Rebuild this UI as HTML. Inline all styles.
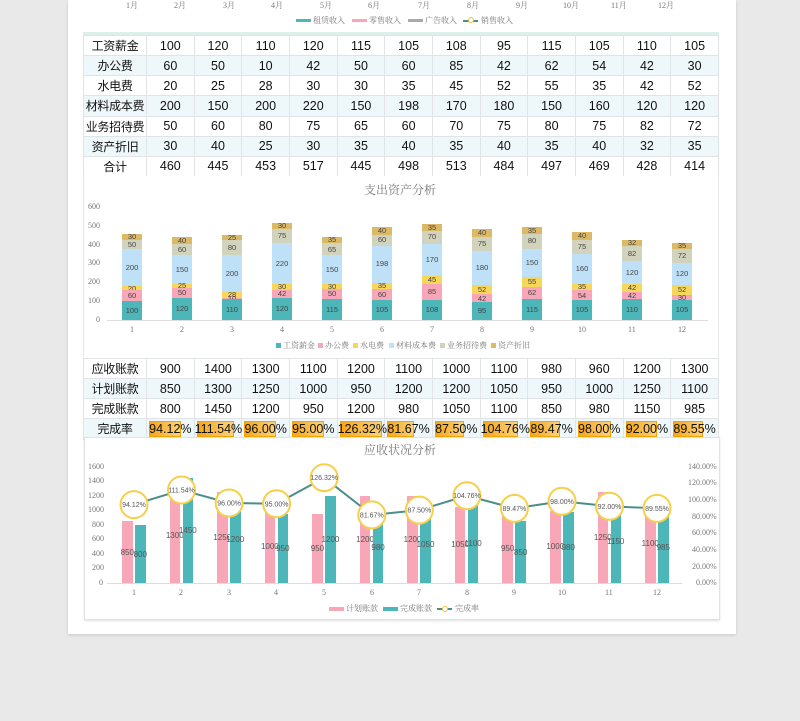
<!DOCTYPE html>
<html><head><meta charset="utf-8"><style>
*{margin:0;padding:0;box-sizing:border-box}
body{width:800px;height:721px;background:#e9e9e9;position:relative;overflow:hidden;font-family:"Liberation Sans","Noto Sans CJK SC",sans-serif}
.sheet{position:absolute;left:68px;top:0;width:668px;height:634px;background:#fff;box-shadow:0 1px 3px rgba(0,0,0,.15)}
.abs{position:absolute}
.small{font-size:8px;color:#777;font-family:"Liberation Serif","Noto Serif CJK SC",serif;white-space:nowrap}
table{position:absolute;left:83px;border-collapse:collapse;table-layout:fixed;width:636px}
td{border:1px solid #e1e4e6;text-align:center;font-size:12.5px;color:#111;height:20.15px;padding:0;white-space:nowrap;position:relative;overflow:visible}
td:first-child{font-size:12px;letter-spacing:-0.3px}
tr:nth-child(even) td{background:#eef7fa}
.bar{position:absolute;width:20px;display:flex;flex-direction:column-reverse}
.bar div{display:flex;align-items:center;justify-content:center;font-size:7.5px;color:#444;overflow:visible;line-height:1}
.c1{background:#4db6b9}.c2{background:#f7a7b7}.c3{background:#f7d65c}.c4{background:#bfe1f8}.c5{background:#d2d3bd}.c6{background:#dcb966}
.b2{position:absolute;width:10.5px;display:flex;align-items:center;justify-content:center;font-size:8px;color:#555;overflow:visible}
.pk{background:#f7a7b7}.tl{background:#4db6b9}
.pb{position:absolute;left:2px;top:2px;height:16px;background:linear-gradient(90deg,#f7a51c,#fcd27c);border:1px solid #f5a300}
.pt{position:relative;z-index:1}
</style></head><body>
<div class="sheet"></div>

<div class="small abs" style="left:126px;top:0">1月</div>
<div class="small abs" style="left:174px;top:0">2月</div>
<div class="small abs" style="left:223px;top:0">3月</div>
<div class="small abs" style="left:271px;top:0">4月</div>
<div class="small abs" style="left:320px;top:0">5月</div>
<div class="small abs" style="left:368px;top:0">6月</div>
<div class="small abs" style="left:418px;top:0">7月</div>
<div class="small abs" style="left:467px;top:0">8月</div>
<div class="small abs" style="left:516px;top:0">9月</div>
<div class="small abs" style="left:563px;top:0">10月</div>
<div class="small abs" style="left:611px;top:0">11月</div>
<div class="small abs" style="left:658px;top:0">12月</div>
<div class="abs" style="left:296px;top:19px;width:15px;height:3px;background:#4db6b9"></div>
<div class="small abs" style="left:313px;top:15px">租赁收入</div>
<div class="abs" style="left:352px;top:19px;width:15px;height:3px;background:#f7a7b7"></div>
<div class="small abs" style="left:369px;top:15px">零售收入</div>
<div class="abs" style="left:408px;top:19px;width:15px;height:3px;background:#aaa"></div>
<div class="small abs" style="left:425px;top:15px">广告收入</div>
<div class="abs" style="left:463px;top:19.5px;width:15px;height:2px;background:#4a8f8c"></div>
<div class="abs" style="left:468px;top:17px;width:6px;height:6px;border-radius:50%;background:#fff;border:1px solid #f2c230"></div>
<div class="small abs" style="left:481px;top:15px">销售收入</div>
<div class="abs" style="left:83px;top:32px;width:636px;height:3px;background:#dcefeb"></div>

<table style="top:35px">
<colgroup><col style="width:63px"><col span="12"></colgroup>
<tr><td>工资薪金</td><td>100</td><td>120</td><td>110</td><td>120</td><td>115</td><td>105</td><td>108</td><td>95</td><td>115</td><td>105</td><td>110</td><td>105</td></tr>
<tr><td>办公费</td><td>60</td><td>50</td><td>10</td><td>42</td><td>50</td><td>60</td><td>85</td><td>42</td><td>62</td><td>54</td><td>42</td><td>30</td></tr>
<tr><td>水电费</td><td>20</td><td>25</td><td>28</td><td>30</td><td>30</td><td>35</td><td>45</td><td>52</td><td>55</td><td>35</td><td>42</td><td>52</td></tr>
<tr><td>材料成本费</td><td>200</td><td>150</td><td>200</td><td>220</td><td>150</td><td>198</td><td>170</td><td>180</td><td>150</td><td>160</td><td>120</td><td>120</td></tr>
<tr><td>业务招待费</td><td>50</td><td>60</td><td>80</td><td>75</td><td>65</td><td>60</td><td>70</td><td>75</td><td>80</td><td>75</td><td>82</td><td>72</td></tr>
<tr><td>资产折旧</td><td>30</td><td>40</td><td>25</td><td>30</td><td>35</td><td>40</td><td>35</td><td>40</td><td>35</td><td>40</td><td>32</td><td>35</td></tr>
<tr><td>合计</td><td>460</td><td>445</td><td>453</td><td>517</td><td>445</td><td>498</td><td>513</td><td>484</td><td>497</td><td>469</td><td>428</td><td>414</td></tr>
</table>

<div class="abs" style="left:83px;top:176px;width:636px;height:181px;background:#fff;border-left:1px solid #e6e6e6;border-right:1px solid #e6e6e6"></div>
<div class="abs" style="left:0;width:800px;top:181px;text-align:center;font-size:12px;color:#777;font-family:'Liberation Serif','Noto Serif CJK SC',serif">支出资产分析</div>
<div class="abs" style="left:107px;top:320px;width:601px;height:1px;background:#ddd"></div>
<div class="small abs" style="left:88px;top:202px">600</div>
<div class="small abs" style="left:88px;top:221px">500</div>
<div class="small abs" style="left:88px;top:240px">400</div>
<div class="small abs" style="left:88px;top:258px">300</div>
<div class="small abs" style="left:88px;top:277px">200</div>
<div class="small abs" style="left:88px;top:296px">100</div>
<div class="small abs" style="left:96px;top:315px">0</div>

<div class="bar" style="left:122px;bottom:401px"><div class="c1" style="height:18.7px">100</div><div class="c2" style="height:11.2px">60</div><div class="c3" style="height:3.7px">20</div><div class="c4" style="height:37.4px">200</div><div class="c5" style="height:9.4px">50</div><div class="c6" style="height:5.6px">30</div></div>
<div class="bar" style="left:172px;bottom:401px"><div class="c1" style="height:22.4px">120</div><div class="c2" style="height:9.4px">50</div><div class="c3" style="height:4.7px">25</div><div class="c4" style="height:28.1px">150</div><div class="c5" style="height:11.2px">60</div><div class="c6" style="height:7.5px">40</div></div>
<div class="bar" style="left:222px;bottom:401px"><div class="c1" style="height:20.6px">110</div><div class="c2" style="height:1.9px">10</div><div class="c3" style="height:5.2px">28</div><div class="c4" style="height:37.4px">200</div><div class="c5" style="height:15px">80</div><div class="c6" style="height:4.7px">25</div></div>
<div class="bar" style="left:272px;bottom:401px"><div class="c1" style="height:22.4px">120</div><div class="c2" style="height:7.9px">42</div><div class="c3" style="height:5.6px">30</div><div class="c4" style="height:41.1px">220</div><div class="c5" style="height:14px">75</div><div class="c6" style="height:5.6px">30</div></div>
<div class="bar" style="left:322px;bottom:401px"><div class="c1" style="height:21.5px">115</div><div class="c2" style="height:9.4px">50</div><div class="c3" style="height:5.6px">30</div><div class="c4" style="height:28.1px">150</div><div class="c5" style="height:12.2px">65</div><div class="c6" style="height:6.5px">35</div></div>
<div class="bar" style="left:372px;bottom:401px"><div class="c1" style="height:19.6px">105</div><div class="c2" style="height:11.2px">60</div><div class="c3" style="height:6.5px">35</div><div class="c4" style="height:37px">198</div><div class="c5" style="height:11.2px">60</div><div class="c6" style="height:7.5px">40</div></div>
<div class="bar" style="left:422px;bottom:401px"><div class="c1" style="height:20.2px">108</div><div class="c2" style="height:15.9px">85</div><div class="c3" style="height:8.4px">45</div><div class="c4" style="height:31.8px">170</div><div class="c5" style="height:13.1px">70</div><div class="c6" style="height:6.5px">35</div></div>
<div class="bar" style="left:472px;bottom:401px"><div class="c1" style="height:17.8px">95</div><div class="c2" style="height:7.9px">42</div><div class="c3" style="height:9.7px">52</div><div class="c4" style="height:33.7px">180</div><div class="c5" style="height:14px">75</div><div class="c6" style="height:7.5px">40</div></div>
<div class="bar" style="left:522px;bottom:401px"><div class="c1" style="height:21.5px">115</div><div class="c2" style="height:11.6px">62</div><div class="c3" style="height:10.3px">55</div><div class="c4" style="height:28.1px">150</div><div class="c5" style="height:15px">80</div><div class="c6" style="height:6.5px">35</div></div>
<div class="bar" style="left:572px;bottom:401px"><div class="c1" style="height:19.6px">105</div><div class="c2" style="height:10.1px">54</div><div class="c3" style="height:6.5px">35</div><div class="c4" style="height:29.9px">160</div><div class="c5" style="height:14px">75</div><div class="c6" style="height:7.5px">40</div></div>
<div class="bar" style="left:622px;bottom:401px"><div class="c1" style="height:20.6px">110</div><div class="c2" style="height:7.9px">42</div><div class="c3" style="height:7.9px">42</div><div class="c4" style="height:22.4px">120</div><div class="c5" style="height:15.3px">82</div><div class="c6" style="height:6px">32</div></div>
<div class="bar" style="left:672px;bottom:401px"><div class="c1" style="height:19.6px">105</div><div class="c2" style="height:5.6px">30</div><div class="c3" style="height:9.7px">52</div><div class="c4" style="height:22.4px">120</div><div class="c5" style="height:13.5px">72</div><div class="c6" style="height:6.5px">35</div></div>

<div class="small abs" style="left:130px;top:325px">1</div><div class="small abs" style="left:180px;top:325px">2</div><div class="small abs" style="left:230px;top:325px">3</div><div class="small abs" style="left:280px;top:325px">4</div><div class="small abs" style="left:330px;top:325px">5</div><div class="small abs" style="left:380px;top:325px">6</div><div class="small abs" style="left:430px;top:325px">7</div><div class="small abs" style="left:480px;top:325px">8</div><div class="small abs" style="left:530px;top:325px">9</div><div class="small abs" style="left:578px;top:325px">10</div><div class="small abs" style="left:628px;top:325px">11</div><div class="small abs" style="left:678px;top:325px">12</div>

<div class="abs c1" style="left:276px;top:343px;width:5px;height:5px"></div><div class="small abs" style="left:283px;top:340px">工资薪金</div>
<div class="abs c2" style="left:318px;top:343px;width:5px;height:5px"></div><div class="small abs" style="left:325px;top:340px">办公费</div>
<div class="abs c3" style="left:353px;top:343px;width:5px;height:5px"></div><div class="small abs" style="left:360px;top:340px">水电费</div>
<div class="abs c4" style="left:389px;top:343px;width:5px;height:5px"></div><div class="small abs" style="left:396px;top:340px">材料成本费</div>
<div class="abs c5" style="left:440px;top:343px;width:5px;height:5px"></div><div class="small abs" style="left:447px;top:340px">业务招待费</div>
<div class="abs c6" style="left:491px;top:343px;width:5px;height:5px"></div><div class="small abs" style="left:498px;top:340px">资产折旧</div>

<table style="top:358px">
<colgroup><col style="width:63px"><col span="12"></colgroup>
<tr><td>应收账款</td><td>900</td><td>1400</td><td>1300</td><td>1100</td><td>1200</td><td>1100</td><td>1000</td><td>1100</td><td>980</td><td>960</td><td>1200</td><td>1300</td></tr>
<tr><td>计划账款</td><td>850</td><td>1300</td><td>1250</td><td>1000</td><td>950</td><td>1200</td><td>1200</td><td>1050</td><td>950</td><td>1000</td><td>1250</td><td>1100</td></tr>
<tr><td>完成账款</td><td>800</td><td>1450</td><td>1200</td><td>950</td><td>1200</td><td>980</td><td>1050</td><td>1100</td><td>850</td><td>980</td><td>1150</td><td>985</td></tr>
<tr><td>完成率</td><td><div class="pb" style="width:32px"></div><span class="pt">94.12%</span></td><td><div class="pb" style="width:37px"></div><span class="pt">111.54%</span></td><td><div class="pb" style="width:32px"></div><span class="pt">96.00%</span></td><td><div class="pb" style="width:32px"></div><span class="pt">95.00%</span></td><td><div class="pb" style="width:42px"></div><span class="pt">126.32%</span></td><td><div class="pb" style="width:27px"></div><span class="pt">81.67%</span></td><td><div class="pb" style="width:29px"></div><span class="pt">87.50%</span></td><td><div class="pb" style="width:35px"></div><span class="pt">104.76%</span></td><td><div class="pb" style="width:30px"></div><span class="pt">89.47%</span></td><td><div class="pb" style="width:33px"></div><span class="pt">98.00%</span></td><td><div class="pb" style="width:31px"></div><span class="pt">92.00%</span></td><td><div class="pb" style="width:30px"></div><span class="pt">89.55%</span></td></tr>
</table>

<div class="abs" style="left:84px;top:437px;width:636px;height:183px;background:#fff;border:1px solid #dfe3e3;box-shadow:0 1px 2px rgba(0,0,0,.12)"></div>
<div class="abs" style="left:0;width:800px;top:441px;text-align:center;font-size:12px;color:#777;font-family:'Liberation Serif','Noto Serif CJK SC',serif">应收状况分析</div>
<div class="abs" style="left:107px;top:583px;width:575px;height:1px;background:#ddd"></div>
<div class="small abs" style="left:88px;top:462px">1600</div><div class="small abs" style="left:88px;top:476px">1400</div><div class="small abs" style="left:88px;top:491px">1200</div><div class="small abs" style="left:88px;top:505px">1000</div><div class="small abs" style="left:92px;top:520px">800</div><div class="small abs" style="left:92px;top:534px">600</div><div class="small abs" style="left:92px;top:549px">400</div><div class="small abs" style="left:92px;top:563px">200</div><div class="small abs" style="left:99px;top:578px">0</div>
<div class="small abs" style="left:688px;top:462px">140.00%</div><div class="small abs" style="left:688px;top:478px">120.00%</div><div class="small abs" style="left:688px;top:495px">100.00%</div><div class="small abs" style="left:692px;top:512px">80.00%</div><div class="small abs" style="left:692px;top:528px">60.00%</div><div class="small abs" style="left:692px;top:545px">40.00%</div><div class="small abs" style="left:692px;top:562px">20.00%</div><div class="small abs" style="left:696px;top:578px">0.00%</div>

<div class="b2 pk" style="left:122px;bottom:138px;height:61.6px">850</div><div class="b2 tl" style="left:135px;bottom:138px;height:58px">800</div>
<div class="b2 pk" style="left:169.5px;bottom:138px;height:94.3px">1300</div><div class="b2 tl" style="left:182.5px;bottom:138px;height:105.1px">1450</div>
<div class="b2 pk" style="left:217px;bottom:138px;height:90.6px">1250</div><div class="b2 tl" style="left:230px;bottom:138px;height:87px">1200</div>
<div class="b2 pk" style="left:264.6px;bottom:138px;height:72.5px">1000</div><div class="b2 tl" style="left:277.6px;bottom:138px;height:68.9px">950</div>
<div class="b2 pk" style="left:312.2px;bottom:138px;height:68.9px">950</div><div class="b2 tl" style="left:325.2px;bottom:138px;height:87px">1200</div>
<div class="b2 pk" style="left:359.8px;bottom:138px;height:87px">1200</div><div class="b2 tl" style="left:372.8px;bottom:138px;height:71px">980</div>
<div class="b2 pk" style="left:407.3px;bottom:138px;height:87px">1200</div><div class="b2 tl" style="left:420.3px;bottom:138px;height:76.1px">1050</div>
<div class="b2 pk" style="left:454.9px;bottom:138px;height:76.1px">1050</div><div class="b2 tl" style="left:467.9px;bottom:138px;height:79.8px">1100</div>
<div class="b2 pk" style="left:502.4px;bottom:138px;height:68.9px">950</div><div class="b2 tl" style="left:515.4px;bottom:138px;height:61.6px">850</div>
<div class="b2 pk" style="left:550px;bottom:138px;height:72.5px">1000</div><div class="b2 tl" style="left:563px;bottom:138px;height:71px">980</div>
<div class="b2 pk" style="left:597.5px;bottom:138px;height:90.6px">1250</div><div class="b2 tl" style="left:610.5px;bottom:138px;height:83.4px">1150</div>
<div class="b2 pk" style="left:645px;bottom:138px;height:79.8px">1100</div><div class="b2 tl" style="left:658px;bottom:138px;height:71.4px">985</div>

<svg class="abs" style="left:0;top:0" width="800" height="721">
<polyline fill="none" stroke="#4a8f8c" stroke-width="2" points="134,504.6 181.5,490 229.1,503 276.6,503.8 324.2,477.7 371.8,514.9 419.3,510.1 466.9,495.7 514.4,508.4 562,501.3 609.5,506.3 657,508.4"/>
<g fill="#fff" stroke="#f7cf4a" stroke-width="2">
<circle cx="134" cy="504.6" r="13.5"/><circle cx="181.5" cy="490" r="13.5"/><circle cx="229.1" cy="503" r="13.5"/><circle cx="276.6" cy="503.8" r="13.5"/><circle cx="324.2" cy="477.7" r="13.5"/><circle cx="371.8" cy="514.9" r="13.5"/><circle cx="419.3" cy="510.1" r="13.5"/><circle cx="466.9" cy="495.7" r="13.5"/><circle cx="514.4" cy="508.4" r="13.5"/><circle cx="562" cy="501.3" r="13.5"/><circle cx="609.5" cy="506.3" r="13.5"/><circle cx="657" cy="508.4" r="13.5"/>
</g>
<g font-family="Liberation Sans,sans-serif" font-size="7" fill="#555" text-anchor="middle">
<text x="134" y="507">94.12%</text><text x="181.5" y="492.5">111.54%</text><text x="229.1" y="505.5">96.00%</text><text x="276.6" y="506.3">95.00%</text><text x="324.2" y="480.2">126.32%</text><text x="371.8" y="517.4">81.67%</text><text x="419.3" y="512.6">87.50%</text><text x="466.9" y="498.2">104.76%</text><text x="514.4" y="510.9">89.47%</text><text x="562" y="503.8">98.00%</text><text x="609.5" y="508.8">92.00%</text><text x="657" y="510.9">89.55%</text>
</g>
</svg>

<div class="small abs" style="left:132px;top:588px">1</div><div class="small abs" style="left:179px;top:588px">2</div><div class="small abs" style="left:227px;top:588px">3</div><div class="small abs" style="left:274px;top:588px">4</div><div class="small abs" style="left:322px;top:588px">5</div><div class="small abs" style="left:370px;top:588px">6</div><div class="small abs" style="left:417px;top:588px">7</div><div class="small abs" style="left:465px;top:588px">8</div><div class="small abs" style="left:512px;top:588px">9</div><div class="small abs" style="left:558px;top:588px">10</div><div class="small abs" style="left:605px;top:588px">11</div><div class="small abs" style="left:653px;top:588px">12</div>

<div class="abs pk" style="left:329px;top:607px;width:15px;height:4px"></div><div class="small abs" style="left:346px;top:603px">计划账款</div>
<div class="abs tl" style="left:383px;top:607px;width:15px;height:4px"></div><div class="small abs" style="left:400px;top:603px">完成账款</div>
<div class="abs" style="left:437px;top:608px;width:15px;height:2px;background:#4a8f8c"></div>
<div class="abs" style="left:442px;top:606px;width:6px;height:6px;border-radius:50%;background:#fff;border:1px solid #f2c230"></div>
<div class="small abs" style="left:455px;top:603px">完成率</div>
</body></html>
